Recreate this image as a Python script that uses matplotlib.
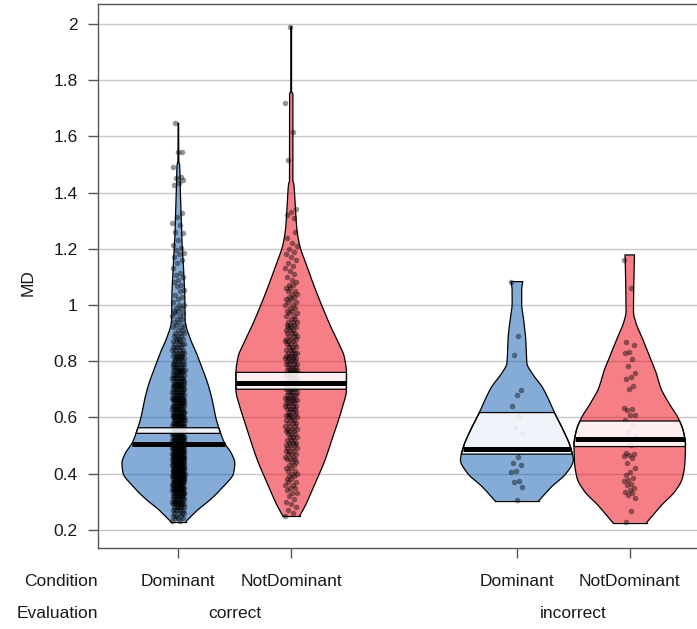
import numpy as np
import matplotlib
matplotlib.use("Agg")
import matplotlib.pyplot as plt
from matplotlib.transforms import blended_transform_factory

plt.rcParams['font.family'] = ['Liberation Sans', 'DejaVu Sans']

# ---------------- data ----------------
conditions = ['Dominant', 'NotDominant', 'Dominant', 'NotDominant']
evaluations = ['correct', 'incorrect']
y_ticks = [0.2, 0.4, 0.6, 0.8, 1.0, 1.2, 1.4, 1.6, 1.8, 2.0]
y_label = 'MD'

# bean outlines: MD level and half width of the bean
cor_dom_y = [0.229, 0.27, 0.306, 0.354, 0.402, 0.437, 0.472, 0.508, 0.561, 0.602, 0.662,
             0.721, 0.78, 0.84, 0.875, 0.947, 1.04, 1.10, 1.16, 1.22, 1.29, 1.40, 1.50,
             1.51, 1.647]
cor_dom_w = [0.067, 0.17, 0.28, 0.40, 0.49, 0.50, 0.47, 0.41, 0.36, 0.33, 0.30,
             0.26, 0.206, 0.149, 0.11, 0.06, 0.057, 0.05, 0.042, 0.033, 0.027, 0.018, 0.011,
             0.004, 0.002]
cor_nd_y = [0.249, 0.282, 0.354, 0.448, 0.543, 0.638, 0.698, 0.757, 0.816, 0.864, 0.923,
            0.994, 1.065, 1.137, 1.22, 1.279, 1.374, 1.433, 1.44, 1.75, 1.76, 1.99]
cor_nd_w = [0.074, 0.12, 0.20, 0.30, 0.38, 0.455, 0.49, 0.49, 0.47, 0.42, 0.35,
            0.275, 0.205, 0.14, 0.07, 0.048, 0.033, 0.022, 0.015, 0.015, 0.003, 0.003]
inc_dom_y = [0.303, 0.354, 0.402, 0.448, 0.496, 0.555, 0.615, 0.662, 0.709, 0.757, 0.792,
             0.887, 0.947, 1.006, 1.053, 1.083]
inc_dom_w = [0.194, 0.31, 0.44, 0.50, 0.473, 0.41, 0.335, 0.283, 0.223, 0.134, 0.089,
             0.077, 0.06, 0.042, 0.042, 0.052]
inc_nd_y = [0.225, 0.253, 0.288, 0.336, 0.384, 0.444, 0.502, 0.549, 0.597, 0.644, 0.704,
            0.763, 0.822, 0.881, 0.94, 0.976, 1.107, 1.178]
inc_nd_w = [0.149, 0.208, 0.283, 0.40, 0.467, 0.49, 0.494, 0.476, 0.43, 0.357, 0.275,
            0.23, 0.171, 0.112, 0.052, 0.033, 0.037, 0.042]

# average line and inference band (low, high) per bean
avg_values = [0.505, 0.722, 0.488, 0.524]
inf_low = [0.543, 0.700, 0.469, 0.496]
inf_high = [0.563, 0.760, 0.617, 0.587]

# raw points: counts per 0.01 MD level (dense groups) plus single values
cor_dom_start = 0.23
cor_dom_counts = [2, 3, 3, 4, 5, 6, 7, 7, 8, 9, 10, 10,
                  11, 12, 12, 13, 13, 14, 14, 14, 14, 14, 14, 14, 13, 13, 13,
                  12, 12, 11, 11, 11, 11, 10, 10, 10, 10,
                  9, 9, 9, 9, 9, 9, 9, 8, 8, 8,
                  8, 8, 7, 7, 7, 7, 6, 6, 6, 6,
                  5, 5, 5, 5, 4, 4, 4, 3, 3, 3,
                  3, 2, 2, 2, 2, 2, 2, 2, 2, 2, 2]
cor_dom_extra = [1.647, 1.546, 1.546, 1.492, 1.457, 1.451, 1.445, 1.433, 1.427, 1.326,
                 1.314, 1.291, 1.285, 1.261, 1.255, 1.231, 1.213, 1.201, 1.195, 1.184,
                 1.18, 1.172, 1.16, 1.148, 1.13, 1.113, 1.107, 1.10, 1.089, 1.083, 1.07,
                 1.066, 1.054, 1.05, 1.036, 1.03, 1.02, 1.012]
cor_nd_start = 0.25
cor_nd_counts = [1, 1, 1, 1, 1, 1, 1, 1,
                 2, 1, 2, 2, 2, 2, 2, 2, 2, 2, 2, 2,
                 3, 2, 3, 3, 3, 3, 3, 3, 3, 3, 3, 3, 3, 3, 3, 3,
                 4, 3, 4, 4, 4, 4, 4, 4, 4, 4, 4, 4, 4, 4, 4, 4, 4, 4, 4, 4, 4, 4, 4,
                 3, 3, 3, 3, 3, 3, 3, 3, 3, 3, 3,
                 2, 2, 2, 2, 2, 2, 2, 2, 2, 2, 2, 2, 2,
                 1, 1, 1, 1, 1, 1, 1, 1, 1, 1, 1, 1, 1, 1, 1,
                 0, 1, 0, 1, 0, 0]
cor_nd_extra = [1.99, 1.718, 1.617, 1.516, 1.34, 1.332, 1.32, 1.31]
inc_dom_points = [1.083, 0.891, 0.822, 0.697, 0.680, 0.641, 0.603, 0.567, 0.543, 0.460,
                  0.439, 0.431, 0.409, 0.407, 0.375, 0.369, 0.351, 0.306]
inc_nd_points = [1.160, 1.059, 0.867, 0.858, 0.832, 0.828, 0.808, 0.784, 0.757, 0.745,
                 0.737, 0.710, 0.701, 0.635, 0.630, 0.626, 0.609, 0.607, 0.590, 0.573,
                 0.549, 0.530, 0.502, 0.472, 0.469, 0.466, 0.464, 0.455, 0.437, 0.420,
                 0.407, 0.395, 0.384, 0.378, 0.372, 0.362, 0.359, 0.350, 0.342, 0.336,
                 0.330, 0.324, 0.312, 0.265, 0.229]


def expand(start, counts, extra):
    levels = start + 0.01 * np.arange(len(counts))
    return np.concatenate([np.repeat(levels, counts), np.asarray(extra, float)])


points = [expand(cor_dom_start, cor_dom_counts, cor_dom_extra),
          expand(cor_nd_start, cor_nd_counts, cor_nd_extra),
          np.asarray(inc_dom_points, float),
          np.asarray(inc_nd_points, float)]
profiles = [(cor_dom_y, cor_dom_w), (cor_nd_y, cor_nd_w),
            (inc_dom_y, inc_dom_w), (inc_nd_y, inc_nd_w)]


# monotone cubic (PCHIP) curve through the outline knots, for a smooth bean edge
def pchip(x, y, xq):
    x = np.asarray(x, float)
    y = np.asarray(y, float)
    h = np.diff(x)
    delta = np.diff(y) / h
    n = len(x)
    d = np.zeros(n)
    for k in range(1, n - 1):
        if delta[k - 1] * delta[k] <= 0:
            d[k] = 0.0
        else:
            w1 = 2 * h[k] + h[k - 1]
            w2 = h[k] + 2 * h[k - 1]
            d[k] = (w1 + w2) / (w1 / delta[k - 1] + w2 / delta[k])
    d[0] = delta[0]
    d[-1] = delta[-1]
    xq = np.asarray(xq, float)
    idx = np.clip(np.searchsorted(x, xq) - 1, 0, n - 2)
    t = (xq - x[idx]) / h[idx]
    h00 = 2 * t ** 3 - 3 * t ** 2 + 1
    h10 = t ** 3 - 2 * t ** 2 + t
    h01 = -2 * t ** 3 + 3 * t ** 2
    h11 = t ** 3 - t ** 2
    return (h00 * y[idx] + h10 * h[idx] * d[idx] + h01 * y[idx + 1]
            + h11 * h[idx] * d[idx + 1])


# ---------------- style ----------------
positions = [1, 2, 4, 5]
colors = ['#0C5BB0', '#EE0011', '#0C5BB0', '#EE0011']
axis_col = '#555555'
txt_col = '#1a1a1a'
fs = 12.5

W, H = 697, 629
fig = plt.figure(figsize=(W / 100, H / 100), dpi=100)
ax_l, ax_r, ax_t, ax_b = 98, 697, 4, 548
ax = fig.add_axes([ax_l / W, 1 - ax_b / H, (ax_r - ax_l) / W, (ax_b - ax_t) / H])
ax.set_xlim(0.288, 5.596)
ax.set_ylim(0.135, 2.071)

ax.set_yticks(y_ticks)
ax.set_yticklabels(['%g' % v for v in y_ticks])
ax.yaxis.grid(True, color='#c8c8c8', lw=1.0)
ax.set_axisbelow(True)

for side in ['left', 'bottom', 'top']:
    ax.spines[side].set_color(axis_col)
    ax.spines[side].set_linewidth(1.0)
ax.spines['right'].set_visible(False)
ax.tick_params(axis='y', direction='out', length=7.5, width=1, color=axis_col,
               labelsize=fs, pad=7, labelcolor=txt_col)
ax.set_xticks(positions)
ax.set_xticklabels([])
ax.tick_params(axis='x', direction='out', length=7.5, width=1, color=axis_col)

for i, pos in enumerate(positions):
    ky, kw = profiles[i]
    py = np.unique(np.concatenate([np.linspace(ky[0], ky[-1], 600), ky]))
    pw = np.clip(pchip(ky, kw, py), 0.001, None)
    xs = np.concatenate([pos - pw, (pos + pw)[::-1]])
    ys = np.concatenate([py, py[::-1]])
    ax.fill(xs, ys, color=colors[i], alpha=0.5, lw=0, zorder=1)

    vals = points[i]
    n = len(vals)
    jit = ((np.arange(n) * 0.6180339887) % 1.0 - 0.5) * 2 * 0.055
    ax.scatter(pos + jit, vals, s=16, color='black', alpha=0.42, lw=0, zorder=2)

    lo, hi = inf_low[i], inf_high[i]
    inner = py[(py > lo) & (py < hi)]
    by = np.concatenate([[lo], inner, [hi]])
    bw = pchip(ky, kw, by)
    bx = np.concatenate([pos - bw, (pos + bw)[::-1]])
    byy = np.concatenate([by, by[::-1]])
    ax.fill(bx, byy, facecolor='white', alpha=0.88, edgecolor='none', zorder=3)
    ax.fill(bx, byy, facecolor='none', edgecolor='black', lw=0.9, zorder=3.2)

    ax.plot(xs, ys, color='black', lw=0.9, zorder=3.5)
    ax.plot([xs[0], xs[-1]], [ys[0], ys[-1]], color='black', lw=0.9, zorder=3.5)

    a = avg_values[i]
    aw = float(pchip(ky, kw, [a])[0])
    ax.plot([pos - aw, pos + aw], [a, a], color='black', lw=3.6,
            solid_capstyle='butt', zorder=4)

# x-axis labels (two rows)
tr = blended_transform_factory(ax.transData, fig.transFigure)
row1 = 1 - 582 / H
row2 = 1 - 613 / H
for pos, lab in zip(positions, conditions):
    ax.text(pos, row1, lab, transform=tr, ha='center', va='center', fontsize=fs,
            color=txt_col)
for x, lab in zip([1.5, 4.5], evaluations):
    ax.text(x, row2, lab, transform=tr, ha='center', va='center', fontsize=fs,
            color=txt_col)
fig.text(98 / W, row1, 'Condition', ha='right', va='center', fontsize=fs, color=txt_col)
fig.text(98 / W, row2, 'Evaluation', ha='right', va='center', fontsize=fs, color=txt_col)
fig.text(28 / W, 1 - 283 / H, y_label, rotation=90, ha='center', va='center',
         fontsize=fs, color=txt_col)

fig.savefig('out.png', dpi=100)
